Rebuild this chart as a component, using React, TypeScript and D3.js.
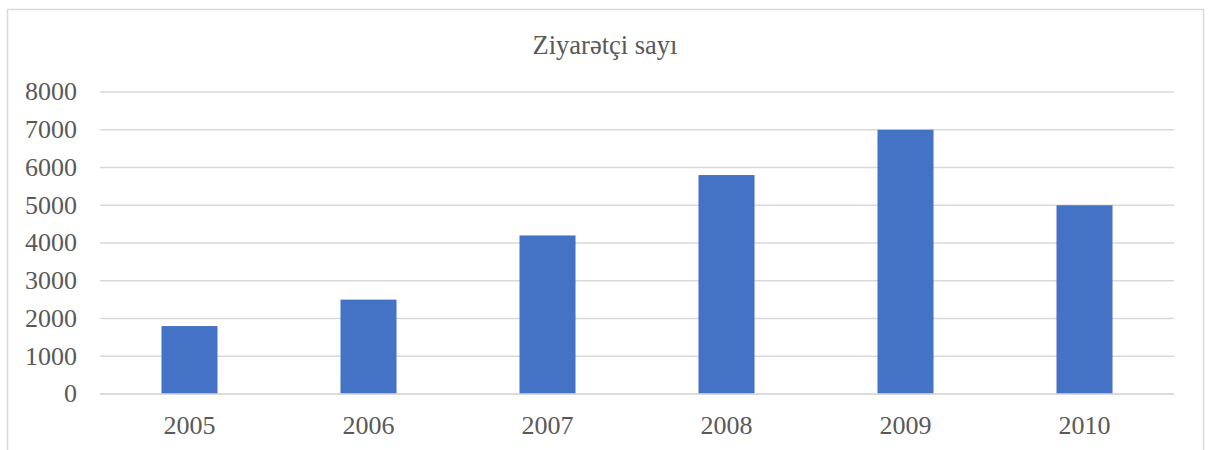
import { useEffect, useRef } from "react";
import * as d3 from "d3";

// Ziyarətçi sayı per year
const years = ["2005", "2006", "2007", "2008", "2009", "2010"];
const visitors = [1800, 2500, 4200, 5800, 7000, 5000];
const yTicks = [0, 1000, 2000, 3000, 4000, 5000, 6000, 7000, 8000];
const title = "Ziyarətçi sayı";

export default function App() {
  const ref = useRef<SVGSVGElement>(null);

  useEffect(() => {
    const width = 1211;
    const height = 450;
    const marginTop = 92;
    const marginRight = 37;
    const marginBottom = 56;
    const marginLeft = 100;
    const font = "'Liberation Serif', 'DejaVu Serif', serif";

    const svg = d3.select(ref.current);
    svg.selectAll("*").remove();

    // outer chart frame (bottom edge is outside the picture)
    svg.append("rect")
      .attr("x", 7.5)
      .attr("y", 9.5)
      .attr("width", 1196)
      .attr("height", 460)
      .attr("fill", "white")
      .attr("stroke", "#d9d9d9")
      .attr("stroke-width", 1.5);

    const x = d3.scaleBand(years, [marginLeft, width - marginRight])
      .paddingInner(0.687)
      .paddingOuter(0.3435);
    const y = d3.scaleLinear([0, 8000], [height - marginBottom, marginTop]);

    // gridlines
    svg.append("g")
      .selectAll("line")
      .data(yTicks)
      .join("line")
      .attr("x1", marginLeft)
      .attr("x2", width - marginRight)
      .attr("y1", d => y(d))
      .attr("y2", d => y(d))
      .attr("stroke", "#d9d9d9")
      .attr("stroke-width", 1.5);

    // y tick labels
    svg.append("g")
      .selectAll("text")
      .data(yTicks)
      .join("text")
      .attr("x", 77)
      .attr("y", d => y(d))
      .attr("dy", "0.32em")
      .attr("text-anchor", "end")
      .attr("fill", "#595959")
      .style("font", `26px ${font}`)
      .text(d => String(d));

    // bars
    svg.append("g")
      .selectAll("rect")
      .data(visitors)
      .join("rect")
      .attr("x", (_, i) => x(years[i])!)
      .attr("y", d => y(d))
      .attr("width", x.bandwidth())
      .attr("height", d => y(0) - y(d))
      .attr("fill", "#4472c4");

    // baseline on top of bars
    svg.append("line")
      .attr("x1", marginLeft)
      .attr("x2", width - marginRight)
      .attr("y1", y(0))
      .attr("y2", y(0))
      .attr("stroke", "#d9d9d9")
      .attr("stroke-width", 1.5);

    // x labels
    svg.append("g")
      .selectAll("text")
      .data(years)
      .join("text")
      .attr("x", d => x(d)! + x.bandwidth() / 2)
      .attr("y", 434)
      .attr("text-anchor", "middle")
      .attr("fill", "#595959")
      .style("font", `26px ${font}`)
      .text(d => d);

    svg.append("text")
      .attr("x", 605)
      .attr("y", 54)
      .attr("text-anchor", "middle")
      .attr("fill", "#595959")
      .style("font", `26.5px ${font}`)
      .text(title);
  }, []);

  return (
    <svg
      ref={ref}
      width={1211}
      height={450}
      style={{ position: "absolute", left: 0, top: 0, background: "white" }}
    />
  );
}
